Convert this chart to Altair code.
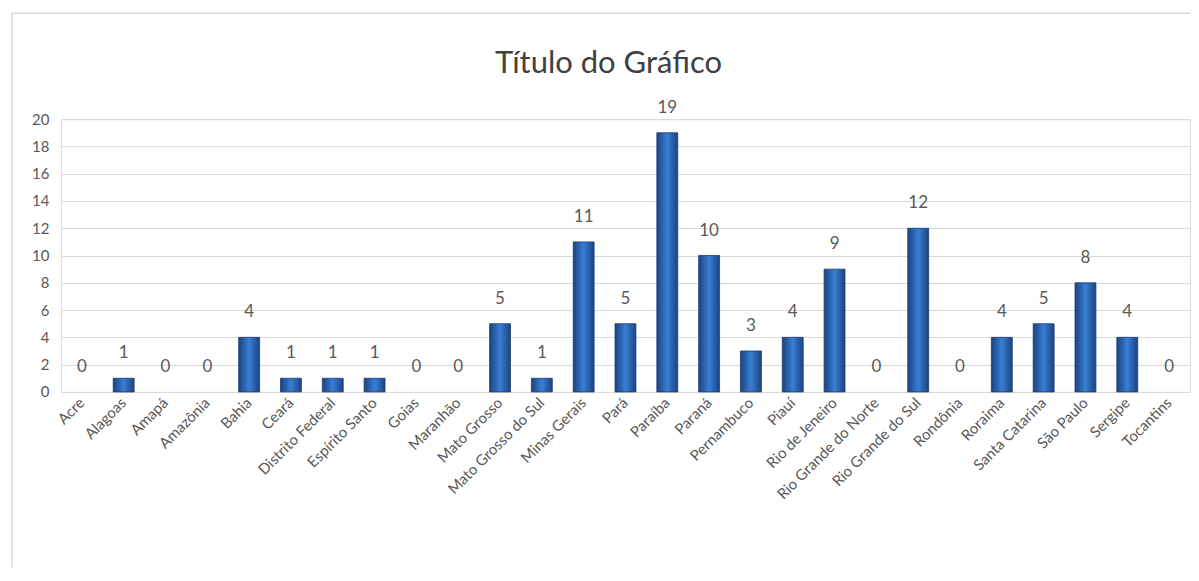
import altair as alt
import pandas as pd

states = ["Acre", "Alagoas", "Amapá", "Amazônia", "Bahia", "Ceará", "Distrito Federal",
          "Espírito Santo", "Goias", "Maranhão", "Mato Grosso", "Mato Grosso do Sul",
          "Minas Gerais", "Pará", "Paraíba", "Paraná", "Pernambuco", "Piauí",
          "Rio de Jeneiro", "Rio Grande do Norte", "Rio Grande do Sul", "Rondônia",
          "Roraima", "Santa Catarina", "São Paulo", "Sergipe", "Tocantins"]
values = [0, 1, 0, 0, 4, 1, 1, 1, 0, 0, 5, 1, 11, 5, 19, 10, 3, 4, 9, 0, 12, 0, 4, 5, 8, 4, 0]
y_ticks = list(range(0, 21, 2))
title_text = "Título do Gráfico"

df = pd.DataFrame({"estado": states, "valor": values})

W, H = 1130, 273
FONT = "Lato"
GREY = "#595959"

x_enc = alt.X("estado:N", sort=states,
              scale=alt.Scale(paddingInner=0.5, paddingOuter=0.25),
              axis=alt.Axis(title=None, labelAngle=-45, labelAlign="right",
                            labelBaseline="middle", labelPadding=8, labelFontSize=15,
                            labelColor=GREY, labelFont=FONT, domain=False, ticks=False,
                            labelOverlap=False, labelLimit=300))
y_enc = alt.Y("valor:Q", scale=alt.Scale(domain=[0, 20], nice=False),
              axis=alt.Axis(title=None, values=y_ticks, labelFontSize=15, labelColor=GREY,
                            labelFont=FONT, domain=False, ticks=False, labelPadding=12,
                            labelOverlap=False, gridColor="#d9d9d9", gridWidth=1))

grad = alt.Gradient(gradient="linear", x1=0, x2=1, y1=0, y2=0,
                    stops=[alt.GradientStop(color="#1c447f", offset=0),
                           alt.GradientStop(color="#2b66b4", offset=0.3),
                           alt.GradientStop(color="#3a7fd6", offset=0.5),
                           alt.GradientStop(color="#2b66b4", offset=0.7),
                           alt.GradientStop(color="#1c447f", offset=1)])

bars = alt.Chart(df).mark_bar(color=grad, stroke="#1a3c70").encode(
    x=x_enc, y=y_enc,
    strokeWidth=alt.condition("datum.valor > 0", alt.value(0.8), alt.value(0)))

labels = alt.Chart(df).mark_text(font=FONT, fontSize=17, color=GREY, baseline="middle",
                                 dy=-25).encode(
    x=x_enc, y=y_enc, text="valor:Q")

one = alt.Data(values=[{"t": title_text}])
border_top = alt.Chart(one).mark_rule(stroke="#d9d9d9", strokeWidth=1.5).encode(
    x=alt.value(-49), x2=alt.value(W), y=alt.value(-106))
border_left = alt.Chart(one).mark_rule(stroke="#d9d9d9", strokeWidth=1.5).encode(
    x=alt.value(-49), y=alt.value(-106), y2=alt.value(H + 176))

title = alt.Chart(one).mark_text(font=FONT, fontSize=31, color="#404040", baseline="middle",
                                 align="center").encode(
    x=alt.value(548), y=alt.value(-55), text="t:N")

chart = alt.layer(border_top, border_left, bars, labels, title).properties(
    width=W, height=H, padding={"left": 3, "top": 4, "right": 0, "bottom": 0}
).configure_view(stroke=None).configure(background="white")

chart.save("out.html", embed_options={"renderer": "svg", "actions": False})
